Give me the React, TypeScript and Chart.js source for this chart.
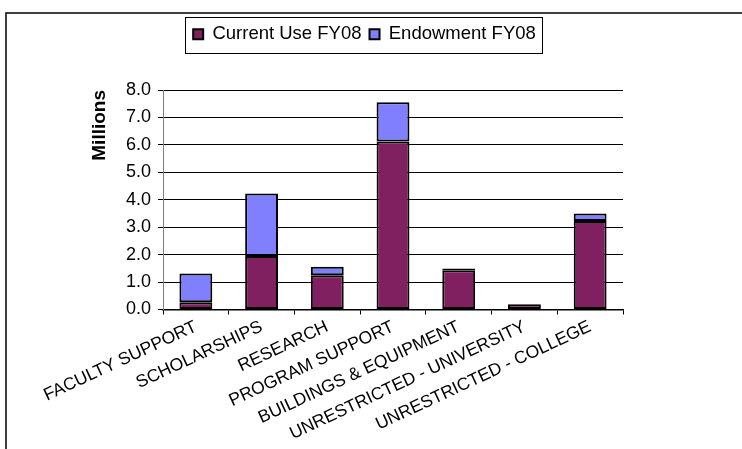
import { useEffect, useRef } from 'react';
import { Chart, registerables } from 'chart.js';

Chart.register(...registerables);

const categories = [
  'FACULTY SUPPORT',
  'SCHOLARSHIPS',
  'RESEARCH',
  'PROGRAM SUPPORT',
  'BUILDINGS & EQUIPMENT',
  'UNRESTRICTED - UNIVERSITY',
  'UNRESTRICTED - COLLEGE',
];
const currentUseFY08 = [0.26, 1.95, 1.25, 6.12, 1.43, 0.19, 3.23];
const endowmentFY08 = [1.05, 2.28, 0.31, 1.43, 0.06, 0, 0.27];
const seriesNames = ['Current Use FY08', 'Endowment FY08'];
const yMin = 0;
const yMax = 8;
const yStep = 1;

const FONT = "'Liberation Sans', Arial, Helvetica, sans-serif";
const PAD_L = 84;
const PAD_R = 119;
const PAD_T = 17;
const PLOT_TOP = 90;
const PLOT_BOTTOM = 309.5;
const W = 742;
const H = 449;

export default function App() {
  const ref = useRef<HTMLCanvasElement | null>(null);

  useEffect(() => {
    if (!ref.current) return;

    const framePlugin = {
      id: 'frame',
      beforeInit(chart: any) {
        const lg = chart.legend;
        if (lg) {
          const orig = lg.fit.bind(lg);
          lg.fit = function () {
            orig();
            this.height = PLOT_TOP - PAD_T;
          };
        }
      },
      afterLayout(chart: any) {
        const lg = chart.legend;
        if (lg) {
          lg.left += 11;
          lg.right += 11;
        }
      },
      beforeDraw(chart: any) {
        const ctx = chart.ctx;
        ctx.save();
        ctx.fillStyle = '#fff';
        ctx.fillRect(0, 0, W, H);
        ctx.strokeStyle = '#000';
        ctx.lineWidth = 1.5;
        ctx.beginPath();
        ctx.moveTo(6, H);
        ctx.lineTo(6, 13);
        ctx.lineTo(W, 13);
        ctx.stroke();
        ctx.restore();
      },
      afterDraw(chart: any) {
        const lg = chart.legend;
        const hb = lg && lg.legendHitBoxes;
        if (!hb || !hb.length) return;
        const ctx = chart.ctx;
        const last = hb[hb.length - 1];
        const left = hb[0].left - 8;
        const right = last.left + last.width + 6;
        const top = lg.top;
        const bottom = 53;
        ctx.save();
        ctx.strokeStyle = '#000';
        ctx.lineWidth = 1;
        ctx.strokeRect(Math.round(left) + 0.5, Math.round(top) + 0.5, Math.round(right - left), Math.round(bottom - top));
        ctx.restore();
      },
    };

    const chart = new Chart(ref.current, {
      type: 'bar',
      data: {
        labels: categories,
        datasets: [
          {
            label: seriesNames[0],
            data: currentUseFY08,
            backgroundColor: '#802060',
            borderColor: '#000',
            borderWidth: 2,
            borderSkipped: false,
          },
          {
            label: seriesNames[1],
            data: endowmentFY08,
            backgroundColor: '#8080FF',
            borderColor: '#000',
            borderWidth: 2,
            borderSkipped: false,
          },
        ],
      },
      options: {
        responsive: false,
        animation: false,
        devicePixelRatio: 1,
        layout: { padding: { left: PAD_L, right: PAD_R, top: PAD_T, bottom: 0 } },
        datasets: {
          bar: { barPercentage: 0.5, categoryPercentage: 1.0 },
        },
        plugins: {
          legend: {
            display: true,
            position: 'top',
            labels: {
              boxWidth: 10,
              boxHeight: 10,
              padding: 8,
              color: '#000',
              font: { size: 18.5, family: FONT },
            },
          },
          tooltip: { enabled: false },
        },
        scales: {
          x: {
            stacked: true,
            ticks: {
              minRotation: 25,
              maxRotation: 25,
              autoSkip: false,
              color: '#000',
              padding: 2,
              font: { size: 17.5, family: FONT },
            },
            grid: {
              offset: true,
              drawOnChartArea: false,
              drawTicks: true,
              tickLength: 5,
              color: '#000',
              lineWidth: 1,
            },
            border: { color: '#000', width: 1.5 },
            afterFit: (s: any) => {
              s.height = H - PLOT_BOTTOM;
            },
          },
          y: {
            stacked: true,
            min: yMin,
            max: yMax,
            ticks: {
              stepSize: yStep,
              color: '#000',
              padding: 7,
              font: { size: 18, family: FONT },
              callback: (v: any) => Number(v).toFixed(1),
            },
            grid: {
              color: '#000',
              lineWidth: 1,
              tickLength: 5,
              drawTicks: true,
            },
            border: { color: '#808080', width: 1 },
            title: {
              display: true,
              text: 'Millions',
              align: 'end',
              color: '#000',
              font: { size: 19, weight: 'bold', family: FONT },
              padding: { top: 4, bottom: 4 },
            },
            afterFit: (s: any) => {
              s.width = 163 - PAD_L;
            },
          },
        },
      },
      plugins: [framePlugin],
    } as any);

    return () => chart.destroy();
  }, []);

  return (
    <div style={{ position: 'absolute', left: 0, top: 0, width: W, height: H, background: '#fff' }}>
      <canvas ref={ref} width={W} height={H} style={{ display: 'block', width: W, height: H }} />
    </div>
  );
}
